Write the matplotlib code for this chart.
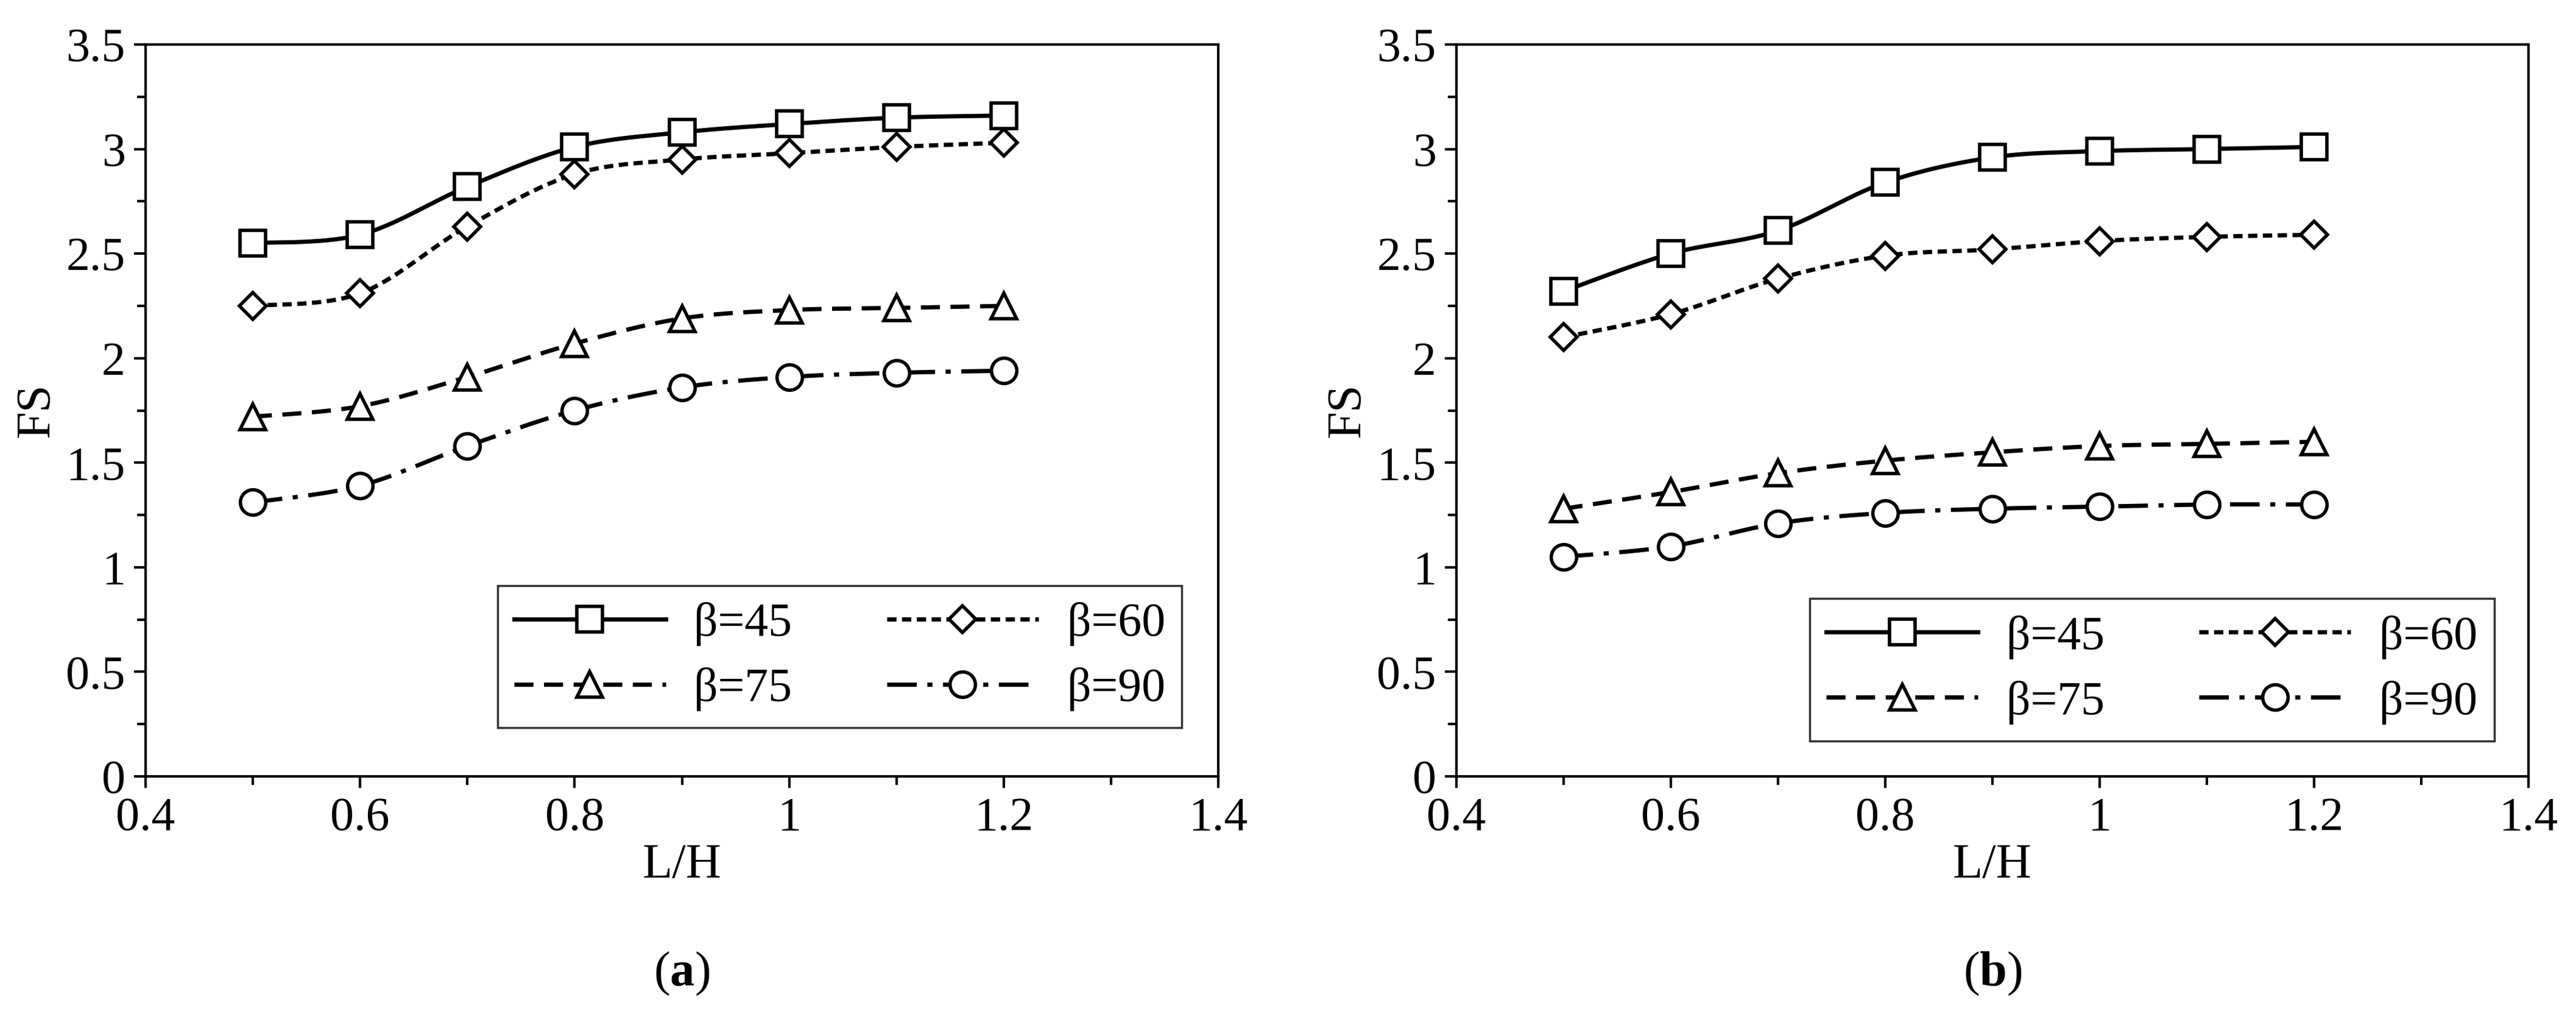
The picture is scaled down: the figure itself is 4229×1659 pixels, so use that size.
import numpy as np
from matplotlib import pyplot as plt, ticker

plt.rcParams["font.family"] = ["Liberation Serif", "DejaVu Serif"]
plt.rcParams["mathtext.fontset"] = "custom"
plt.rcParams["mathtext.rm"] = "Liberation Serif"
plt.rcParams["mathtext.bf"] = "Liberation Serif:bold"

lh = [0.5, 0.6, 0.7, 0.8, 0.9, 1.0, 1.1, 1.2]
labels = ["β=45", "β=60", "β=75", "β=90"]

fs_a = {
    "β=45": [2.55, 2.59, 2.82, 3.01, 3.08, 3.12, 3.15, 3.16],
    "β=60": [2.25, 2.31, 2.63, 2.88, 2.95, 2.98, 3.01, 3.03],
    "β=75": [1.72, 1.77, 1.91, 2.07, 2.19, 2.23, 2.24, 2.25],
    "β=90": [1.31, 1.39, 1.58, 1.75, 1.86, 1.91, 1.93, 1.94],
}
fs_b = {
    "β=45": [2.32, 2.50, 2.61, 2.84, 2.96, 2.99, 3.00, 3.01],
    "β=60": [2.10, 2.21, 2.38, 2.49, 2.52, 2.56, 2.58, 2.59],
    "β=75": [1.28, 1.36, 1.45, 1.51, 1.55, 1.58, 1.59, 1.60],
    "β=90": [1.05, 1.10, 1.21, 1.26, 1.28, 1.29, 1.30, 1.30],
}

styles = {
    "β=45": dict(marker="s", ls="-", ms=30),
    "β=60": dict(marker="D", ls=(0, (2.2, 1.3)), ms=22),
    "β=75": dict(marker="^", ls=(0, (4.5, 2.5)), ms=30),
    "β=90": dict(marker="o", ls=(0, (7, 2.5, 1.2, 2.5)), ms=30),
}


def smooth(x, y, n=30):
    # Catmull-Rom style smoothing like Excel's smoothed lines
    x = np.asarray(x, float)
    y = np.asarray(y, float)
    px = np.concatenate([[x[0]], x, [x[-1]]])
    py = np.concatenate([[y[0]], y, [y[-1]]])
    xs, ys = [], []
    t = np.linspace(0, 1, n)
    for i in range(1, len(px) - 2):
        p0, p1, p2, p3 = [np.array([px[j], py[j]]) for j in (i - 1, i, i + 1, i + 2)]
        c1 = p1 + (p2 - p0) / 6
        c2 = p2 - (p3 - p1) / 6
        pts = ((1 - t) ** 3)[:, None] * p1 + (3 * (1 - t) ** 2 * t)[:, None] * c1 \
            + (3 * (1 - t) * t ** 2)[:, None] * c2 + (t ** 3)[:, None] * p2
        xs.extend(pts[:, 0])
        ys.extend(pts[:, 1])
    return xs, ys


fig = plt.figure(figsize=(42.29, 16.59), dpi=100)
ax_a = fig.add_axes([239 / 4229, 1 - 1274 / 1659, 1761 / 4229, 1201 / 1659])
ax_b = fig.add_axes([2391 / 4229, 1 - 1274 / 1659, 1760 / 4229, 1201 / 1659])

for ax, data, tag, leg_anchor in [(ax_a, fs_a, "a", (0.988, 0.034)), (ax_b, fs_b, "b", (0.99, 0.016))]:
    handles = {}
    for lab in labels:
        st = styles[lab]
        xs, ys = smooth(lh, data[lab])
        ax.plot(xs, ys, color="black", lw=5, ls=st["ls"])
        ax.plot(lh, data[lab], ls="none", marker=st["marker"], ms=st["ms"], mfc="white",
                mec="black", mew=4)
        handles[lab], = ax.plot([], [], color="black", lw=5, ls=st["ls"], marker=st["marker"],
                                ms=st["ms"], mfc="white", mec="black", mew=4, label=lab)
    ax.set_xlim(0.4, 1.4)
    ax.set_ylim(0, 3.5)
    ax.xaxis.set_major_locator(ticker.MultipleLocator(0.2))
    ax.xaxis.set_minor_locator(ticker.MultipleLocator(0.1))
    ax.yaxis.set_major_locator(ticker.MultipleLocator(0.5))
    ax.yaxis.set_minor_locator(ticker.MultipleLocator(0.25))
    ax.xaxis.set_major_formatter(ticker.FuncFormatter(lambda v, p: f"{v:g}"))
    ax.yaxis.set_major_formatter(ticker.FuncFormatter(lambda v, p: f"{v:g}"))
    ax.tick_params(which="both", direction="out", width=3, labelsize=56, pad=10)
    ax.tick_params(which="major", length=14)
    ax.tick_params(which="minor", length=10)
    for s in ax.spines.values():
        s.set_linewidth(3)
    ax.set_xlabel("L/H", fontsize=58, labelpad=4)
    ax.set_ylabel("FS", fontsize=58, labelpad=8)
    order = ["β=45", "β=75", "β=60", "β=90"]
    leg = ax.legend([handles[k] for k in order], order, ncol=2, loc="lower right",
                    bbox_to_anchor=leg_anchor, fontsize=56, frameon=True, fancybox=False,
                    edgecolor="black", handlelength=3.2, columnspacing=2.0, borderpad=0.35,
                    labelspacing=0.45, handletextpad=0.6)
    leg.get_frame().set_linewidth(2.5)
    ax.text(0.5, -0.27, "($\\mathbf{%s}$)" % tag, transform=ax.transAxes, ha="center",
            va="center", fontsize=58)

fig.savefig("out.png", dpi=100, facecolor="white")
